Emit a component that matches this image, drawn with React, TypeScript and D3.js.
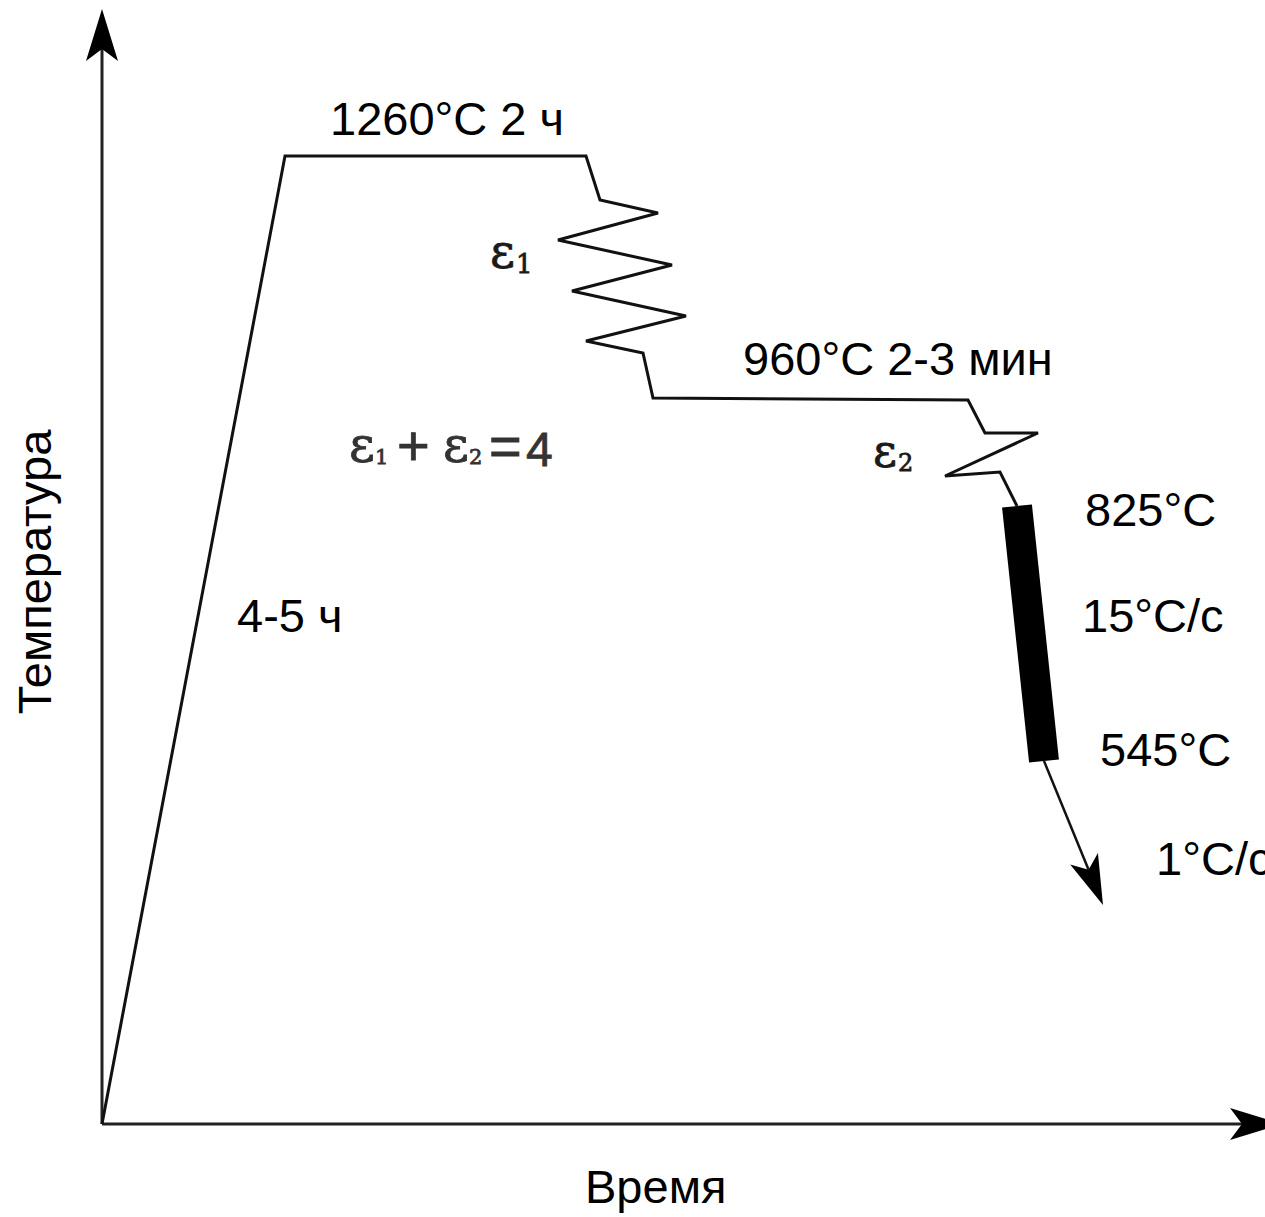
import React from 'react';
import * as d3 from 'd3';

const W = 1265;
const H = 1217;

// schematic heat-treatment cycle: [time, temperature] in arbitrary units
const profile: [number, number][] = [
  [0, 0], [183, 968], [484, 968], [498, 924], [556, 911], [456, 884],
  [570, 859], [470, 833], [584, 808], [484, 783], [541, 771], [551, 726],
  [866, 724], [883, 691], [936, 691], [843, 648], [898, 652], [915, 618],
];
// accelerated cooling segment 825 -> 545 (thick bar)
const fastCooling: [number, number][] = [[915, 618], [942, 363]];
// slow cooling afterwards, ends with an arrow
const slowCooling: [number, number][] = [[942, 363], [1001, 219]];

const axisOrigin: [number, number] = [0, 0];
const yAxisEnd: [number, number] = [0, 1115];
const xAxisEnd: [number, number] = [1180, 0];

const axisTitles = { x: 'Время', y: 'Температура' };
const annotations = {
  soak: '1260°C 2 ч',
  hold: '960°C 2-3 мин',
  heating: '4-5 ч',
  t825: '825°C',
  rate15: '15°C/c',
  t545: '545°C',
  rate1: '1°C/c',
};

const x = d3.scaleLinear().domain([0, 1163]).range([102, 1265]);
const y = d3.scaleLinear().domain([0, 1115]).range([1124, 9]);

const toPx = (p: [number, number]): [number, number] => [x(p[0]), y(p[1])];

// notched arrowhead, returns path + the point where the shaft should stop
function arrowHead(from: [number, number], tip: [number, number], len = 52, hw = 16, notch = 12) {
  const dx = tip[0] - from[0];
  const dy = tip[1] - from[1];
  const d = Math.hypot(dx, dy);
  const ux = dx / d, uy = dy / d;
  const px = -uy, py = ux;
  const b1: [number, number] = [tip[0] - len * ux + hw * px, tip[1] - len * uy + hw * py];
  const b2: [number, number] = [tip[0] - len * ux - hw * px, tip[1] - len * uy - hw * py];
  const n: [number, number] = [tip[0] - (len - notch) * ux, tip[1] - (len - notch) * uy];
  const path = d3.path();
  path.moveTo(tip[0], tip[1]);
  path.lineTo(b1[0], b1[1]);
  path.lineTo(n[0], n[1]);
  path.lineTo(b2[0], b2[1]);
  path.closePath();
  return { d: path.toString(), stop: n };
}

const App: React.FC = () => {
  const line = d3.line<[number, number]>().x(d => x(d[0])).y(d => y(d[1]));

  const o = toPx(axisOrigin);
  const yTip = toPx(yAxisEnd);
  const xTip = toPx(xAxisEnd);
  const yArrow = arrowHead(o, yTip);
  const xArrow = arrowHead(o, xTip);
  const slowFrom = toPx(slowCooling[0]);
  const slowTip = toPx(slowCooling[1]);
  const coolArrow = arrowHead(slowFrom, slowTip, 50, 15, 12);

  const font = '"Liberation Sans", Arial, sans-serif';
  const epsFont = '"DejaVu Serif", serif';

  return (
    <div style={{ position: 'absolute', left: 0, top: 0, width: W, height: H, background: '#fff' }}>
      <svg width={W} height={H} viewBox={`0 0 ${W} ${H}`} style={{ display: 'block' }}>
        {/* axes */}
        <line x1={o[0]} y1={o[1]} x2={yArrow.stop[0]} y2={yArrow.stop[1]} stroke="#222" strokeWidth={3} />
        <path d={yArrow.d} fill="#000" />
        <line x1={o[0]} y1={o[1]} x2={xArrow.stop[0]} y2={xArrow.stop[1]} stroke="#222" strokeWidth={3} />
        <path d={xArrow.d} fill="#000" />

        {/* profile */}
        <path d={line(profile) ?? ''} fill="none" stroke="#111" strokeWidth={3} strokeLinejoin="miter" />
        <path d={line(fastCooling) ?? ''} fill="none" stroke="#000" strokeWidth={30} strokeLinecap="butt" />
        <line x1={slowFrom[0]} y1={slowFrom[1]} x2={coolArrow.stop[0]} y2={coolArrow.stop[1]} stroke="#111" strokeWidth={2.5} />
        <path d={coolArrow.d} fill="#000" />

        {/* annotations */}
        <g fontFamily={font} fontSize={47} fill="#000">
          <text x={330} y={135}>{annotations.soak}</text>
          <text x={743} y={375}>{annotations.hold}</text>
          <text x={237} y={632}>{annotations.heating}</text>
          <text x={1085} y={526}>{annotations.t825}</text>
          <text x={1082} y={632}>{annotations.rate15}</text>
          <text x={1100} y={766}>{annotations.t545}</text>
          <text x={1156} y={875}>{annotations.rate1}</text>
          <text x={585} y={1203}>{axisTitles.x}</text>
          <text transform="translate(51,572) rotate(-90)" textAnchor="middle">{axisTitles.y}</text>
        </g>

        <g fontFamily={epsFont} fill="#1a1a1a" stroke="#1a1a1a" strokeWidth={0.8}>
          <text x={490} y={268} fontSize={48}>ε</text>
          <text x={516} y={273} fontSize={26}>1</text>
          <text x={873} y={467} fontSize={46}>ε</text>
          <text x={898} y={471} fontSize={24}>2</text>
        </g>
        <g fill="#333" stroke="#333" strokeWidth={0.8}>
          <text x={349} y={462} fontFamily={epsFont} fontSize={50}>ε</text>
          <text x={375} y={464} fontFamily={epsFont} fontSize={21}>1</text>
          <text x={397} y={465} fontFamily={font} fontSize={56}>+</text>
          <text x={443} y={462} fontFamily={epsFont} fontSize={50}>ε</text>
          <text x={469} y={464} fontFamily={epsFont} fontSize={21}>2</text>
          <text x={489} y={465} fontFamily={font} fontSize={56}>=</text>
          <text x={526} y={466} fontFamily={font} fontSize={48}>4</text>
        </g>
      </svg>
    </div>
  );
};

export default App;
